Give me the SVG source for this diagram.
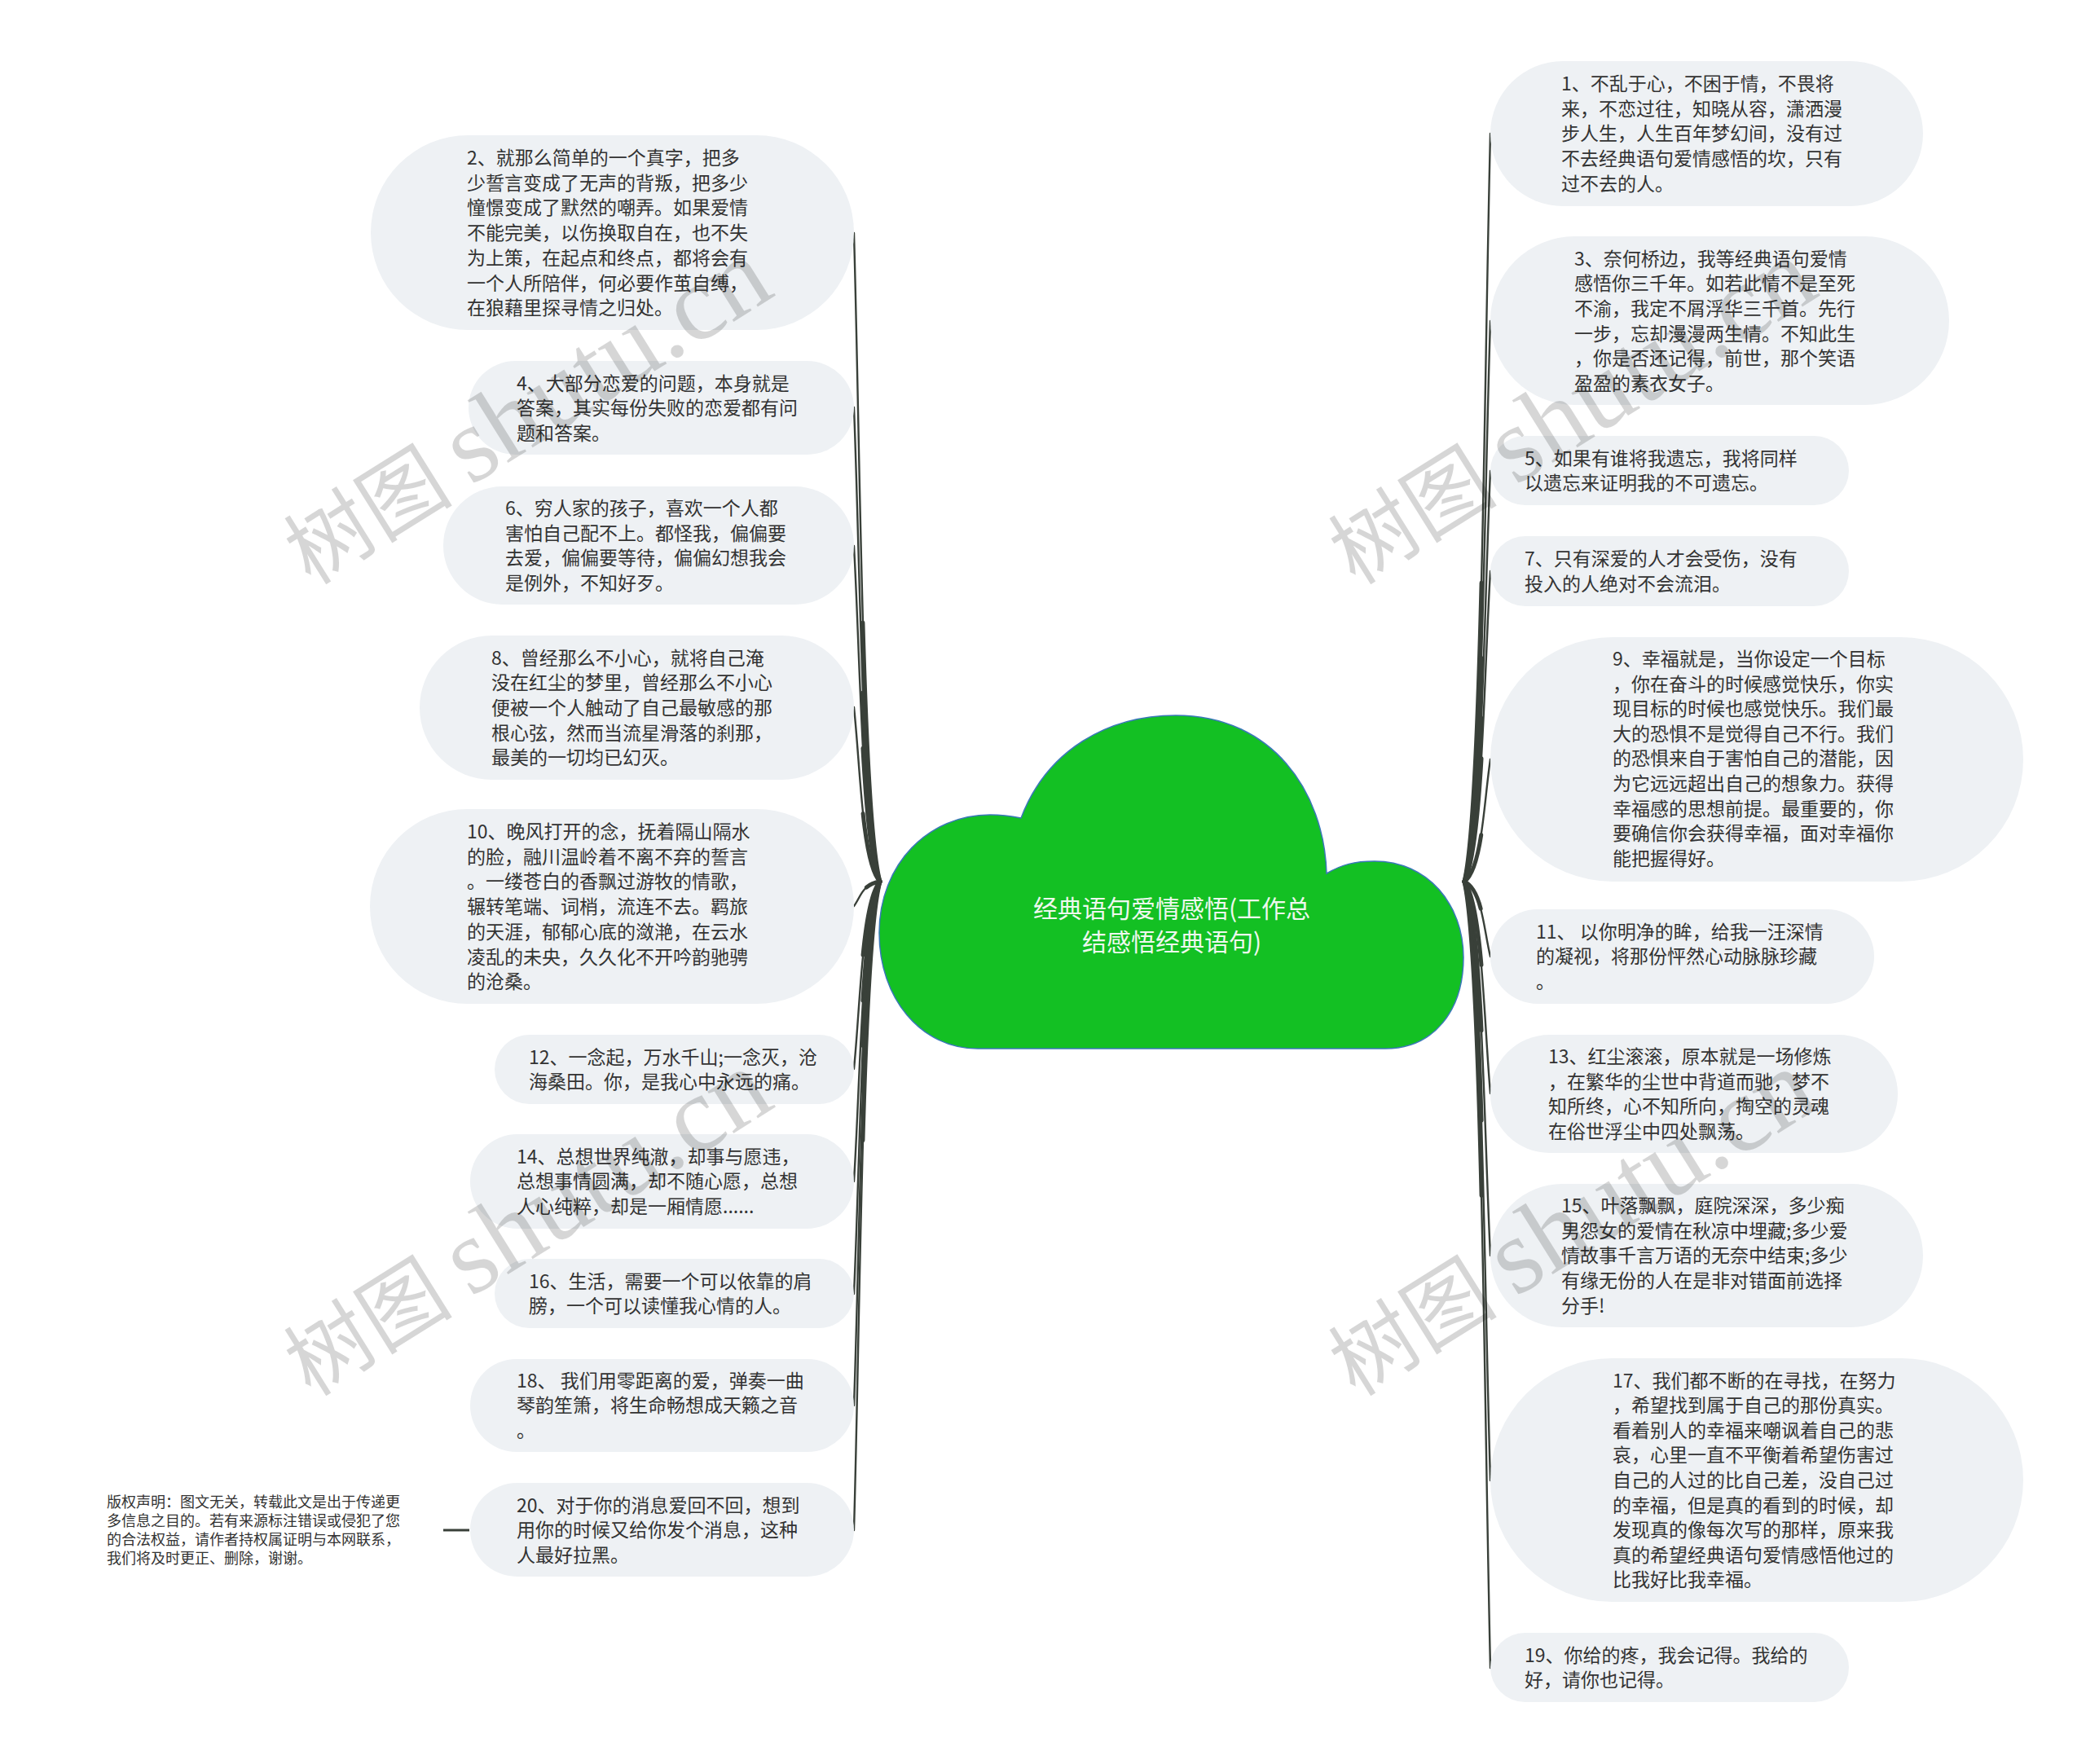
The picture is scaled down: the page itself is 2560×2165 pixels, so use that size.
<svg xmlns="http://www.w3.org/2000/svg" xmlns:xlink="http://www.w3.org/1999/xlink" width="2560" height="2165" viewBox="0 0 2560 2165">
<style>
.pill{fill:#eef1f4}
.t{font-family:"Noto Sans CJK SC","Noto Sans",sans-serif;font-size:23px;fill:#333333}
.title{font-family:"Noto Sans CJK SC","Noto Sans",sans-serif;font-size:30px;fill:#eef8ee;text-anchor:middle}
.copy{font-family:"Noto Sans CJK SC","Noto Sans",sans-serif;font-size:18px;fill:#333333}
.cw{fill:none;stroke:#394039;stroke-width:2.4;stroke-linecap:round}
.ct{fill:none;stroke:#394039;stroke-width:5;stroke-linecap:round;stroke-dasharray:40 200}
.wm{fill:#000000;fill-opacity:0.16;text-anchor:middle}
.wm1{font-family:"Noto Sans CJK SC",sans-serif;font-size:104px}
.wm2{font-family:"Liberation Serif",serif;font-size:132px}
</style>
<defs>
<path id="L2" pathLength="100" d="M1080 1082 C1058 1002.4 1056 564.6 1048 286"/>
<path id="L4" pathLength="100" d="M1080 1082 C1058 1023.8 1056 703.7 1048 500"/>
<path id="L6" pathLength="100" d="M1080 1082 C1058 1040.8 1056 814.2 1048 670"/>
<path id="L8" pathLength="100" d="M1080 1082 C1058 1060.6 1056 942.9 1048 868"/>
<path id="L10" pathLength="100" d="M1080 1082 C1058 1085 1056 1101.5 1048 1112"/>
<path id="L12" pathLength="100" d="M1080 1082 C1058 1105 1056 1231.5 1048 1312"/>
<path id="L14" pathLength="100" d="M1080 1082 C1058 1118.8 1056 1321.2 1048 1450"/>
<path id="L16" pathLength="100" d="M1080 1082 C1058 1132.6 1056 1410.9 1048 1588"/>
<path id="L18" pathLength="100" d="M1080 1082 C1058 1146.3 1056 1499.9 1048 1725"/>
<path id="L20" pathLength="100" d="M1080 1082 C1058 1161.6 1056 1599.4 1048 1878"/>
<path id="R1" pathLength="100" d="M1797 1082 C1819 990.2 1821 485.3 1829 164"/>
<path id="R3" pathLength="100" d="M1797 1082 C1819 1013.2 1821 634.8 1829 394"/>
<path id="R5" pathLength="100" d="M1797 1082 C1819 1031.6 1821 754.4 1829 578"/>
<path id="R7" pathLength="100" d="M1797 1082 C1819 1043.9 1821 834.4 1829 701"/>
<path id="R9" pathLength="100" d="M1797 1082 C1819 1067 1821 984.5 1829 932"/>
<path id="R11" pathLength="100" d="M1797 1082 C1819 1091.2 1821 1141.8 1829 1174"/>
<path id="R13" pathLength="100" d="M1797 1082 C1819 1108 1821 1251 1829 1342"/>
<path id="R15" pathLength="100" d="M1797 1082 C1819 1127.9 1821 1380.4 1829 1541"/>
<path id="R17" pathLength="100" d="M1797 1082 C1819 1155.5 1821 1559.8 1829 1817"/>
<path id="R19" pathLength="100" d="M1797 1082 C1819 1178.5 1821 1709.3 1829 2047"/>
</defs>
<rect x="0" y="0" width="2560" height="2165" fill="#ffffff"/>

<g id="connectors">
<use href="#L2" class="cw"/><use href="#L2" class="ct"/>
<use href="#L4" class="cw"/><use href="#L4" class="ct"/>
<use href="#L6" class="cw"/><use href="#L6" class="ct"/>
<use href="#L8" class="cw"/><use href="#L8" class="ct"/>
<use href="#L10" class="cw"/><use href="#L10" class="ct"/>
<use href="#L12" class="cw"/><use href="#L12" class="ct"/>
<use href="#L14" class="cw"/><use href="#L14" class="ct"/>
<use href="#L16" class="cw"/><use href="#L16" class="ct"/>
<use href="#L18" class="cw"/><use href="#L18" class="ct"/>
<use href="#L20" class="cw"/><use href="#L20" class="ct"/>
<use href="#R1" class="cw"/><use href="#R1" class="ct"/>
<use href="#R3" class="cw"/><use href="#R3" class="ct"/>
<use href="#R5" class="cw"/><use href="#R5" class="ct"/>
<use href="#R7" class="cw"/><use href="#R7" class="ct"/>
<use href="#R9" class="cw"/><use href="#R9" class="ct"/>
<use href="#R11" class="cw"/><use href="#R11" class="ct"/>
<use href="#R13" class="cw"/><use href="#R13" class="ct"/>
<use href="#R15" class="cw"/><use href="#R15" class="ct"/>
<use href="#R17" class="cw"/><use href="#R17" class="ct"/>
<use href="#R19" class="cw"/><use href="#R19" class="ct"/>
<path d="M544 1878 L576 1878" fill="none" stroke="#394039" stroke-width="3"/>
</g>

<g id="center">
<path d="M1253 1004 C1285 920 1360 878 1443 878 C1560 878 1625 970 1628 1072 C1647 1061 1662 1057 1687 1057 C1752 1057 1796 1110 1796 1175 C1796 1240 1760 1287 1700 1287 L1200 1287 C1130 1287 1079 1225 1079 1145 C1079 1060 1140 1000 1215 1000 C1230 1000 1243 1002 1253 1004 Z" fill="#13c023" stroke="#3a78b8" stroke-width="1.5"/>
<text class="title" x="1438" y="1126"><tspan x="1438">经典语句爱情感悟(工作总</tspan><tspan x="1438" dy="41">结感悟经典语句)</tspan></text>
</g>

<g id="n2"><rect class="pill" x="455" y="166" width="593" height="239" rx="119.5"/>
<text class="t" x="573" y="202"><tspan x="573">2、就那么简单的一个真字，把多</tspan><tspan x="573" dy="30.7">少誓言变成了无声的背叛，把多少</tspan><tspan x="573" dy="30.7">憧憬变成了默然的嘲弄。如果爱情</tspan><tspan x="573" dy="30.7">不能完美，以伤换取自在，也不失</tspan><tspan x="573" dy="30.7">为上策，在起点和终点，都将会有</tspan><tspan x="573" dy="30.7">一个人所陪伴，何必要作茧自缚，</tspan><tspan x="573" dy="30.7">在狼藉里探寻情之归处。</tspan></text></g>

<g id="n4"><rect class="pill" x="575" y="443" width="473" height="115" rx="57.5"/>
<text class="t" x="634" y="478.5"><tspan x="634">4、大部分恋爱的问题，本身就是</tspan><tspan x="634" dy="30.7">答案，其实每份失败的恋爱都有问</tspan><tspan x="634" dy="30.7">题和答案。</tspan></text></g>

<g id="n6"><rect class="pill" x="544" y="597" width="504" height="145" rx="72.5"/>
<text class="t" x="620" y="632"><tspan x="620">6、穷人家的孩子，喜欢一个人都</tspan><tspan x="620" dy="30.7">害怕自己配不上。都怪我，偏偏要</tspan><tspan x="620" dy="30.7">去爱，偏偏要等待，偏偏幻想我会</tspan><tspan x="620" dy="30.7">是例外，不知好歹。</tspan></text></g>

<g id="n8"><rect class="pill" x="515" y="780" width="533" height="177" rx="88.5"/>
<text class="t" x="603" y="815.5"><tspan x="603">8、曾经那么不小心，就将自己淹</tspan><tspan x="603" dy="30.7">没在红尘的梦里，曾经那么不小心</tspan><tspan x="603" dy="30.7">便被一个人触动了自己最敏感的那</tspan><tspan x="603" dy="30.7">根心弦，然而当流星滑落的刹那，</tspan><tspan x="603" dy="30.7">最美的一切均已幻灭。</tspan></text></g>

<g id="n10"><rect class="pill" x="454" y="993" width="594" height="239" rx="119.5"/>
<text class="t" x="573" y="1029"><tspan x="573">10、晚风打开的念，抚着隔山隔水</tspan><tspan x="573" dy="30.7">的脸，融川温岭着不离不弃的誓言</tspan><tspan x="573" dy="30.7">。一缕苍白的香飘过游牧的情歌，</tspan><tspan x="573" dy="30.7">辗转笔端、词梢，流连不去。羁旅</tspan><tspan x="573" dy="30.7">的天涯，郁郁心底的潋滟，在云水</tspan><tspan x="573" dy="30.7">凌乱的未央，久久化不开吟韵驰骋</tspan><tspan x="573" dy="30.7">的沧桑。</tspan></text></g>

<g id="n12"><rect class="pill" x="607" y="1270" width="441" height="85" rx="42.5"/>
<text class="t" x="649" y="1305.5"><tspan x="649">12、一念起，万水千山;一念灭，沧</tspan><tspan x="649" dy="30.7">海桑田。你，是我心中永远的痛。</tspan></text></g>

<g id="n14"><rect class="pill" x="577" y="1392" width="471" height="116" rx="58"/>
<text class="t" x="634" y="1427.5"><tspan x="634">14、总想世界纯澈，却事与愿违，</tspan><tspan x="634" dy="30.7">总想事情圆满，却不随心愿，总想</tspan><tspan x="634" dy="30.7">人心纯粹，却是一厢情愿......</tspan></text></g>

<g id="n16"><rect class="pill" x="607" y="1545" width="441" height="85" rx="42.5"/>
<text class="t" x="649" y="1580.5"><tspan x="649">16、生活，需要一个可以依靠的肩</tspan><tspan x="649" dy="30.7">膀，一个可以读懂我心情的人。</tspan></text></g>

<g id="n18"><rect class="pill" x="577" y="1668" width="471" height="114" rx="57"/>
<text class="t" x="634" y="1702.5"><tspan x="634">18、 我们用零距离的爱，弹奏一曲</tspan><tspan x="634" dy="30.7">琴韵笙箫，将生命畅想成天籁之音</tspan><tspan x="634" dy="30.7">。</tspan></text></g>

<g id="n20"><rect class="pill" x="577" y="1820" width="471" height="115" rx="57.5"/>
<text class="t" x="634" y="1855.5"><tspan x="634">20、对于你的消息爱回不回，想到</tspan><tspan x="634" dy="30.7">用你的时候又给你发个消息，这种</tspan><tspan x="634" dy="30.7">人最好拉黑。</tspan></text></g>

<g id="n1"><rect class="pill" x="1829" y="75" width="531" height="178" rx="89"/>
<text class="t" x="1916" y="111"><tspan x="1916">1、不乱于心，不困于情，不畏将</tspan><tspan x="1916" dy="30.7">来，不恋过往，知晓从容，潇洒漫</tspan><tspan x="1916" dy="30.7">步人生，人生百年梦幻间，没有过</tspan><tspan x="1916" dy="30.7">不去经典语句爱情感悟的坎，只有</tspan><tspan x="1916" dy="30.7">过不去的人。</tspan></text></g>

<g id="n3"><rect class="pill" x="1829" y="290" width="563" height="207" rx="103.5"/>
<text class="t" x="1932" y="325.5"><tspan x="1932">3、奈何桥边，我等经典语句爱情</tspan><tspan x="1932" dy="30.7">感悟你三千年。如若此情不是至死</tspan><tspan x="1932" dy="30.7">不渝，我定不屑浮华三千首。先行</tspan><tspan x="1932" dy="30.7">一步，忘却漫漫两生情。不知此生</tspan><tspan x="1932" dy="30.7">，你是否还记得，前世，那个笑语</tspan><tspan x="1932" dy="30.7">盈盈的素衣女子。</tspan></text></g>

<g id="n5"><rect class="pill" x="1829" y="535" width="440" height="85" rx="42.5"/>
<text class="t" x="1871" y="570.5"><tspan x="1871">5、如果有谁将我遗忘，我将同样</tspan><tspan x="1871" dy="30.7">以遗忘来证明我的不可遗忘。</tspan></text></g>

<g id="n7"><rect class="pill" x="1829" y="658" width="440" height="86" rx="43"/>
<text class="t" x="1871" y="694"><tspan x="1871">7、只有深爱的人才会受伤，没有</tspan><tspan x="1871" dy="30.7">投入的人绝对不会流泪。</tspan></text></g>

<g id="n9"><rect class="pill" x="1829" y="782" width="654" height="300" rx="150"/>
<text class="t" x="1979" y="817"><tspan x="1979">9、幸福就是，当你设定一个目标</tspan><tspan x="1979" dy="30.6">，你在奋斗的时候感觉快乐，你实</tspan><tspan x="1979" dy="30.6">现目标的时候也感觉快乐。我们最</tspan><tspan x="1979" dy="30.6">大的恐惧不是觉得自己不行。我们</tspan><tspan x="1979" dy="30.6">的恐惧来自于害怕自己的潜能，因</tspan><tspan x="1979" dy="30.6">为它远远超出自己的想象力。获得</tspan><tspan x="1979" dy="30.6">幸福感的思想前提。最重要的，你</tspan><tspan x="1979" dy="30.6">要确信你会获得幸福，面对幸福你</tspan><tspan x="1979" dy="30.6">能把握得好。</tspan></text></g>

<g id="n11"><rect class="pill" x="1829" y="1116" width="471" height="116" rx="58"/>
<text class="t" x="1885" y="1151.5"><tspan x="1885">11、 以你明净的眸，给我一汪深情</tspan><tspan x="1885" dy="30.7">的凝视，将那份怦然心动脉脉珍藏</tspan><tspan x="1885" dy="30.7">。</tspan></text></g>

<g id="n13"><rect class="pill" x="1829" y="1270" width="500" height="145" rx="72.5"/>
<text class="t" x="1900" y="1305"><tspan x="1900">13、红尘滚滚，原本就是一场修炼</tspan><tspan x="1900" dy="30.7">，在繁华的尘世中背道而驰，梦不</tspan><tspan x="1900" dy="30.7">知所终，心不知所向，掏空的灵魂</tspan><tspan x="1900" dy="30.7">在俗世浮尘中四处飘荡。</tspan></text></g>

<g id="n15"><rect class="pill" x="1829" y="1453" width="531" height="176" rx="88"/>
<text class="t" x="1916" y="1488"><tspan x="1916">15、叶落飘飘，庭院深深，多少痴</tspan><tspan x="1916" dy="30.7">男怨女的爱情在秋凉中埋藏;多少爱</tspan><tspan x="1916" dy="30.7">情故事千言万语的无奈中结束;多少</tspan><tspan x="1916" dy="30.7">有缘无份的人在是非对错面前选择</tspan><tspan x="1916" dy="30.7">分手!</tspan></text></g>

<g id="n17"><rect class="pill" x="1829" y="1667" width="654" height="299" rx="149.5"/>
<text class="t" x="1979" y="1702.5"><tspan x="1979">17、我们都不断的在寻找，在努力</tspan><tspan x="1979" dy="30.6">，希望找到属于自己的那份真实。</tspan><tspan x="1979" dy="30.6">看着别人的幸福来嘲讽着自己的悲</tspan><tspan x="1979" dy="30.6">哀，心里一直不平衡着希望伤害过</tspan><tspan x="1979" dy="30.6">自己的人过的比自己差，没自己过</tspan><tspan x="1979" dy="30.6">的幸福，但是真的看到的时候，却</tspan><tspan x="1979" dy="30.6">发现真的像每次写的那样，原来我</tspan><tspan x="1979" dy="30.6">真的希望经典语句爱情感悟他过的</tspan><tspan x="1979" dy="30.6">比我好比我幸福。</tspan></text></g>

<g id="n19"><rect class="pill" x="1829" y="2004" width="440" height="85" rx="42.5"/>
<text class="t" x="1871" y="2039.5"><tspan x="1871">19、你给的疼，我会记得。我给的</tspan><tspan x="1871" dy="30.7">好，请你也记得。</tspan></text></g>

<g id="copyright">
<text class="copy" x="131" y="1849.5"><tspan x="131">版权声明：图文无关，转载此文是出于传递更</tspan><tspan x="131" dy="23.2">多信息之目的。若有来源标注错误或侵犯了您</tspan><tspan x="131" dy="23.2">的合法权益，请作者持权属证明与本网联系，</tspan><tspan x="131" dy="23.2">我们将及时更正、删除，谢谢。</tspan></text>
</g>

<g id="watermarks">
<text class="wm" x="648" y="546" transform="rotate(-32 648 509)"><tspan class="wm1">树图 </tspan><tspan class="wm2">shutu.cn</tspan></text>
<text class="wm" x="1930" y="546" transform="rotate(-32 1930 509)"><tspan class="wm1">树图 </tspan><tspan class="wm2">shutu.cn</tspan></text>
<text class="wm" x="648" y="1542" transform="rotate(-32 648 1505)"><tspan class="wm1">树图 </tspan><tspan class="wm2">shutu.cn</tspan></text>
<text class="wm" x="1930" y="1542" transform="rotate(-32 1930 1505)"><tspan class="wm1">树图 </tspan><tspan class="wm2">shutu.cn</tspan></text>
</g>
</svg>
